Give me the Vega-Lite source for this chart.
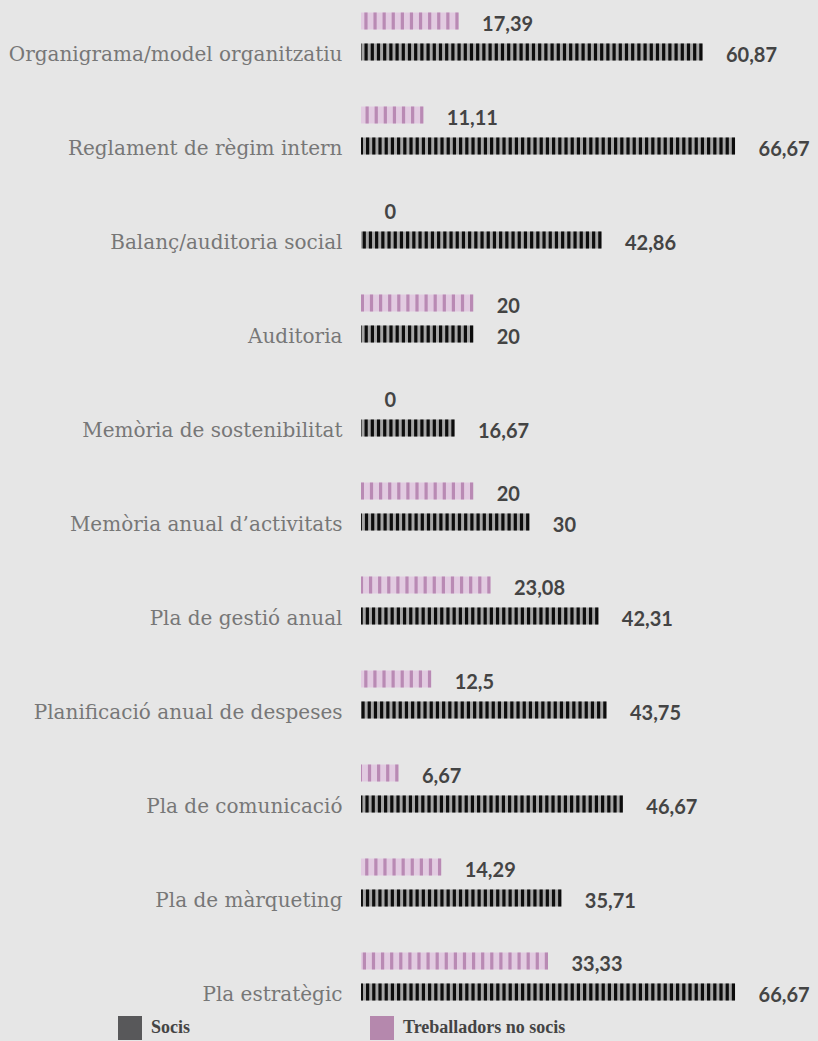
{
  "$schema": "https://vega.github.io/schema/vega-lite/v6.json",
  "width": 457,
  "height": 1034,
  "autosize": {"type": "none"},
  "padding": {"left": 361, "top": 0, "right": 0, "bottom": 7},
  "background": "#e6e6e6",
  "config": {
    "view": {"stroke": null},
    "locale": {"number": {"decimal": ",", "thousands": ".", "grouping": [3], "currency": ["", " €"]}}
  },
  "data": {"values": [
    {"cat": "Organigrama/model organitzatiu", "serie": "Treballadors no socis", "value": 17.39},
    {"cat": "Organigrama/model organitzatiu", "serie": "Socis", "value": 60.87},
    {"cat": "Reglament de règim intern", "serie": "Treballadors no socis", "value": 11.11},
    {"cat": "Reglament de règim intern", "serie": "Socis", "value": 66.67},
    {"cat": "Balanç/auditoria social", "serie": "Treballadors no socis", "value": 0},
    {"cat": "Balanç/auditoria social", "serie": "Socis", "value": 42.86},
    {"cat": "Auditoria", "serie": "Treballadors no socis", "value": 20},
    {"cat": "Auditoria", "serie": "Socis", "value": 20},
    {"cat": "Memòria de sostenibilitat", "serie": "Treballadors no socis", "value": 0},
    {"cat": "Memòria de sostenibilitat", "serie": "Socis", "value": 16.67},
    {"cat": "Memòria anual d’activitats", "serie": "Treballadors no socis", "value": 20},
    {"cat": "Memòria anual d’activitats", "serie": "Socis", "value": 30},
    {"cat": "Pla de gestió anual", "serie": "Treballadors no socis", "value": 23.08},
    {"cat": "Pla de gestió anual", "serie": "Socis", "value": 42.31},
    {"cat": "Planificació anual de despeses", "serie": "Treballadors no socis", "value": 12.5},
    {"cat": "Planificació anual de despeses", "serie": "Socis", "value": 43.75},
    {"cat": "Pla de comunicació", "serie": "Treballadors no socis", "value": 6.67},
    {"cat": "Pla de comunicació", "serie": "Socis", "value": 46.67},
    {"cat": "Pla de màrqueting", "serie": "Treballadors no socis", "value": 14.29},
    {"cat": "Pla de màrqueting", "serie": "Socis", "value": 35.71},
    {"cat": "Pla estratègic", "serie": "Treballadors no socis", "value": 33.33},
    {"cat": "Pla estratègic", "serie": "Socis", "value": 66.67}
  ]},
  "encoding": {
    "y": {
      "field": "cat", "type": "nominal", "sort": null,
      "scale": {"paddingInner": 0, "paddingOuter": 0},
      "axis": {
        "title": null, "ticks": false, "domain": false, "grid": false,
        "labelPadding": 19, "labelOffset": 8, "labelLimit": 0,
        "labelFont": "DejaVu Serif", "labelFontSize": 20, "labelColor": "#777777", "labelFontWeight": "normal"
      }
    },
    "yOffset": {
      "field": "serie", "type": "nominal",
      "scale": {"domain": ["Treballadors no socis", "Socis"], "paddingInner": 0.45, "paddingOuter": 0.741, "align": 0.272}
    }
  },
  "layer": [
    {
      "transform": [{"filter": "datum.serie === 'Socis'"}],
      "mark": {"type": "bar", "fill": "#a6a6a6"},
      "encoding": {
        "x": {"field": "value", "type": "quantitative", "scale": {"domain": [0, 81.46], "nice": false, "zero": true}, "axis": null}
      }
    },
    {
      "transform": [{"filter": "datum.serie !== 'Socis'"}],
      "mark": {"type": "bar", "fill": "#e2cbe1"},
      "encoding": {
        "x": {"field": "value", "type": "quantitative"}
      }
    },
    {
      "mark": {"type": "bar"},
      "encoding": {
        "x": {"datum": 0},
        "x2": {"datum": 0},
        "color": {
          "field": "serie", "type": "nominal",
          "scale": {"domain": ["Socis", "Treballadors no socis"], "range": ["#58585a", "#b588ad"]},
          "legend": {
            "title": null, "orient": "none", "legendX": -243, "legendY": 1016,
            "direction": "horizontal", "symbolType": "square", "symbolSize": 576,
            "symbolStrokeWidth": 0, "symbolOpacity": 1, "labelOffset": 9, "columnPadding": 179,
            "labelFont": "Liberation Serif", "labelFontWeight": "bold", "labelFontSize": 18, "labelColor": "#444444",
            "labelLimit": 0
          }
        }
      }
    },
    {
      "transform": [{"filter": "datum.serie === 'Socis'"}],
      "mark": {"type": "rule", "stroke": "#0d0d0d", "strokeWidth": 17, "strokeDash": [3.2, 3.0], "strokeCap": "butt"},
      "encoding": {
        "x": {"field": "value", "type": "quantitative"},
        "x2": {"datum": 0}
      }
    },
    {
      "transform": [{"filter": "datum.serie !== 'Socis'"}],
      "mark": {"type": "rule", "stroke": "#b98ab4", "strokeWidth": 17, "strokeDash": [3.2, 5.9], "strokeCap": "butt"},
      "encoding": {
        "x": {"field": "value", "type": "quantitative"},
        "x2": {"datum": 0}
      }
    },
    {
      "mark": {"type": "text", "align": "left", "baseline": "middle", "dx": 23.5, "dy": 4, "font": "Lato", "fontWeight": "bold", "fontSize": 20, "color": "#444444"},
      "encoding": {
        "x": {"field": "value", "type": "quantitative"},
        "text": {"field": "value", "type": "quantitative", "format": ".4~g"}
      }
    }
  ]
}
